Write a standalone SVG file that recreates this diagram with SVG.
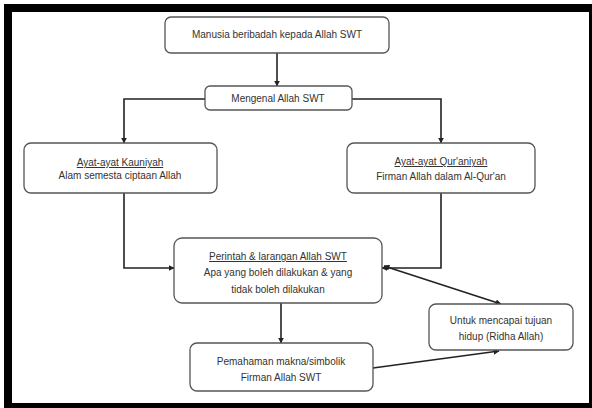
<svg xmlns="http://www.w3.org/2000/svg" width="592" height="408" viewBox="0 0 592 408">
<defs>
<style>
.box{fill:#fff;stroke:#555;stroke-width:1.3}
.t{font-family:"Liberation Sans",Arial,sans-serif;font-size:10px;fill:#333;text-anchor:middle}
.u{text-decoration:underline}
.c{fill:none;stroke:#222;stroke-width:1.6}
</style>
<marker id="ah" viewBox="0 0 10 10" refX="9" refY="5" markerWidth="6" markerHeight="6" orient="auto-start-reverse" markerUnits="userSpaceOnUse">
<path d="M0,0 L10,5 L0,10 z" fill="#222"/>
</marker>
</defs>
<rect x="0" y="0" width="592" height="408" fill="#fff"/>
<path d="M4,4 H592 V408 H4 Z M12,12 V403 H589 V12 Z" fill="#000" fill-rule="evenodd"/>
<g id="connectors">
<path class="c" d="M277,53 V86" marker-end="url(#ah)"/>
<path class="c" d="M205,99 H124 V143" marker-end="url(#ah)"/>
<path class="c" d="M352,99 H441 V143" marker-end="url(#ah)"/>
<path class="c" d="M124,193 V268 H174" marker-end="url(#ah)"/>
<path class="c" d="M441,193 V268 H382" marker-end="url(#ah)"/>
<path class="c" d="M281,303 V343" marker-end="url(#ah)"/>
<path class="c" d="M384,266 L501,304" marker-start="url(#ah)" marker-end="url(#ah)"/>
<path class="c" d="M373,368 L499,351" marker-end="url(#ah)"/>
</g>
<g id="n1"><rect class="box" x="165" y="17" width="224" height="36" rx="6"/><text class="t" x="277" y="38">Manusia beribadah kepada Allah SWT</text></g>
<g id="n2"><rect class="box" x="205" y="86" width="147" height="24" rx="5"/><text class="t" x="278" y="102">Mengenal Allah SWT</text></g>
<g id="n3"><rect class="box" x="24" y="143" width="193" height="50" rx="7"/><text class="t u" x="120" y="166">Ayat-ayat Kauniyah</text><text class="t" x="120" y="179">Alam semesta ciptaan Allah</text></g>
<g id="n4"><rect class="box" x="347" y="143" width="188" height="50" rx="7"/><text class="t u" x="441" y="165">Ayat-ayat Qur'aniyah</text><text class="t" x="441" y="180">Firman Allah dalam Al-Qur'an</text></g>
<g id="n5"><rect class="box" x="174" y="238" width="208" height="65" rx="8"/><text class="t u" x="278" y="260">Perintah &amp; larangan Allah SWT</text><text class="t" x="278" y="276">Apa yang boleh dilakukan &amp; yang</text><text class="t" x="278" y="293">tidak boleh dilakukan</text></g>
<g id="n6"><rect class="box" x="190" y="343" width="183" height="48" rx="7"/><text class="t" x="281" y="365">Pemahaman makna/simbolik</text><text class="t" x="281" y="381">Firman Allah SWT</text></g>
<g id="n7"><rect class="box" x="429" y="304" width="144" height="46" rx="7"/><text class="t" x="501" y="324">Untuk mencapai tujuan</text><text class="t" x="501" y="340">hidup (Ridha Allah)</text></g>
</svg>
